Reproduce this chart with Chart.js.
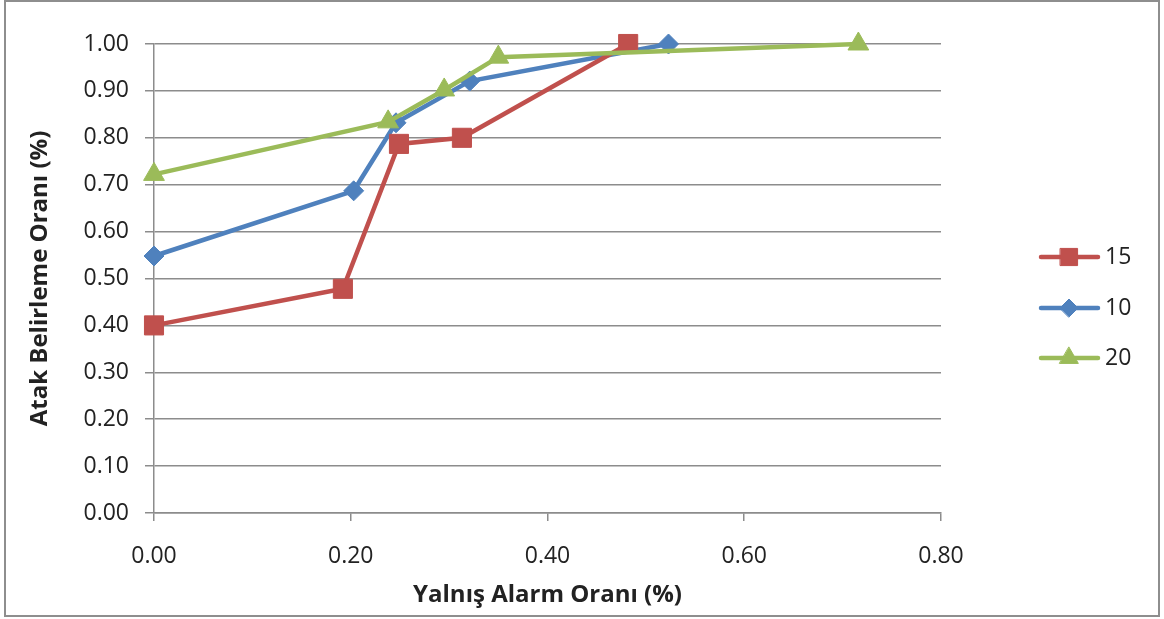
<!DOCTYPE html>
<html>
<head>
<meta charset="utf-8">
<script src="https://cdn.jsdelivr.net/npm/chart.js@4/dist/chart.umd.min.js"></script>
<style>
body{margin:0;background:#fff;}
#frame{position:absolute;left:4px;top:0;width:1152px;height:613px;border:2px solid #8e8e8e;background:#fff;}
canvas{display:block;}
</style>
</head>
<body>
<div id="frame"><canvas id="chart" width="1152" height="613"></canvas></div>
<script>
// series names, as in the legend
const seriesLabels = ['15', '10', '20'];
// Yalnış Alarm Oranı (x) / Atak Belirleme Oranı (y)
const fa15 = [0, 0.192, 0.249, 0.313, 0.482];
const dr15 = [0.40, 0.478, 0.787, 0.80, 1.00];
const fa10 = [0, 0.203, 0.246, 0.321, 0.523];
const dr10 = [0.548, 0.687, 0.832, 0.921, 1.00];
const fa20 = [0, 0.238, 0.295, 0.350, 0.716];
const dr20 = [0.722, 0.834, 0.902, 0.972, 1.00];

const xTicks = [0, 0.2, 0.4, 0.6, 0.8];
const yTicks = [0, 0.1, 0.2, 0.3, 0.4, 0.5, 0.6, 0.7, 0.8, 0.9, 1.0];

const colors = ['#c0504d', '#4f81bd', '#9bbb59'];
const styles = ['rect', 'rectRot', 'triangle'];
const radii = [13.5, 10, 12];
const order = [2, 3, 1];

const gridColor = '#8c8c8c';
const tickFont = {family: 'Open Sans', size: 23};
const titleFont = {family: 'Open Sans', size: 24, weight: 'bold'};

function pts(xs, ys){
return xs.map((x,i)=>({x:x, y:ys[i]}));
}

const series = [pts(fa15,dr15), pts(fa10,dr10), pts(fa20,dr20)];

const datasets = series.map((d,i)=>({
label: seriesLabels[i],
data: d,
showLine: true,
borderColor: colors[i],
backgroundColor: colors[i],
borderWidth: 4.5,
tension: 0,
pointStyle: styles[i],
pointRadius: radii[i],
pointHoverRadius: radii[i],
pointBorderWidth: 1,
pointBackgroundColor: colors[i],
pointBorderColor: colors[i],
clip: false,
order: order[i]
}));

// legend drawn at the right, line with the marker in its middle
const sideLegend = {
id: 'sideLegend',
afterDraw(chart){
const ctx = chart.ctx;
const rows = [255, 306, 356];
ctx.save();
chart.data.datasets.forEach((ds,i)=>{
const y = rows[i];
ctx.strokeStyle = ds.borderColor;
ctx.lineWidth = 4.5;
ctx.lineCap = 'round';
ctx.beginPath();
ctx.moveTo(1035, y);
ctx.lineTo(1092, y);
ctx.stroke();
ctx.fillStyle = ds.backgroundColor;
ctx.lineWidth = 1;
Chart.helpers.drawPoint(ctx, {pointStyle: ds.pointStyle, radius: ds.pointRadius*0.9, rotation: 0, borderWidth: 1}, 1063, y);
ctx.fillStyle = '#222';
ctx.font = '23px "Open Sans"';
ctx.textBaseline = 'middle';
ctx.textAlign = 'left';
ctx.fillText(ds.label, 1099, y);
});
ctx.restore();
}
};

new Chart(document.getElementById('chart'), {
type: 'scatter',
data: {datasets: datasets},
options: {
responsive: false,
animation: false,
events: [],
layout: {padding: {left: 0, top: 42, right: 217, bottom: 0}},
plugins: {
legend: {display: false},
tooltip: {enabled: false}
},
scales: {
x: {
type: 'linear',
min: 0,
max: 0.8,
afterFit: s => { s.height = 102; },
afterBuildTicks: s => { s.ticks = xTicks.map(v=>({value:v})); },
grid: {drawOnChartArea: false, drawTicks: true, tickLength: 8, color: gridColor, lineWidth: 1.5},
border: {display: true, color: gridColor, width: 1.5},
ticks: {font: tickFont, color: '#222', padding: 22, maxRotation: 0, callback: v => v.toFixed(2)},
title: {display: true, text: 'Yalnış Alarm Oranı (%)', font: titleFont, color: '#222', padding: {top: 4, bottom: 5}}
},
y: {
type: 'linear',
min: 0,
max: 1,
afterFit: s => { s.width = 148; },
afterBuildTicks: s => { s.ticks = yTicks.map(v=>({value:v})); },
grid: {drawOnChartArea: true, drawTicks: true, tickLength: 9, color: gridColor, lineWidth: 1.5},
border: {display: true, color: gridColor, width: 1.5},
ticks: {font: tickFont, color: '#222', padding: 16, callback: v => v.toFixed(2)},
title: {display: true, text: 'Atak Belirleme Oranı (%)', font: titleFont, color: '#222', padding: {top: 20, bottom: 4}}
}
}
},
plugins: [sideLegend]
});
</script>
</body>
</html>
